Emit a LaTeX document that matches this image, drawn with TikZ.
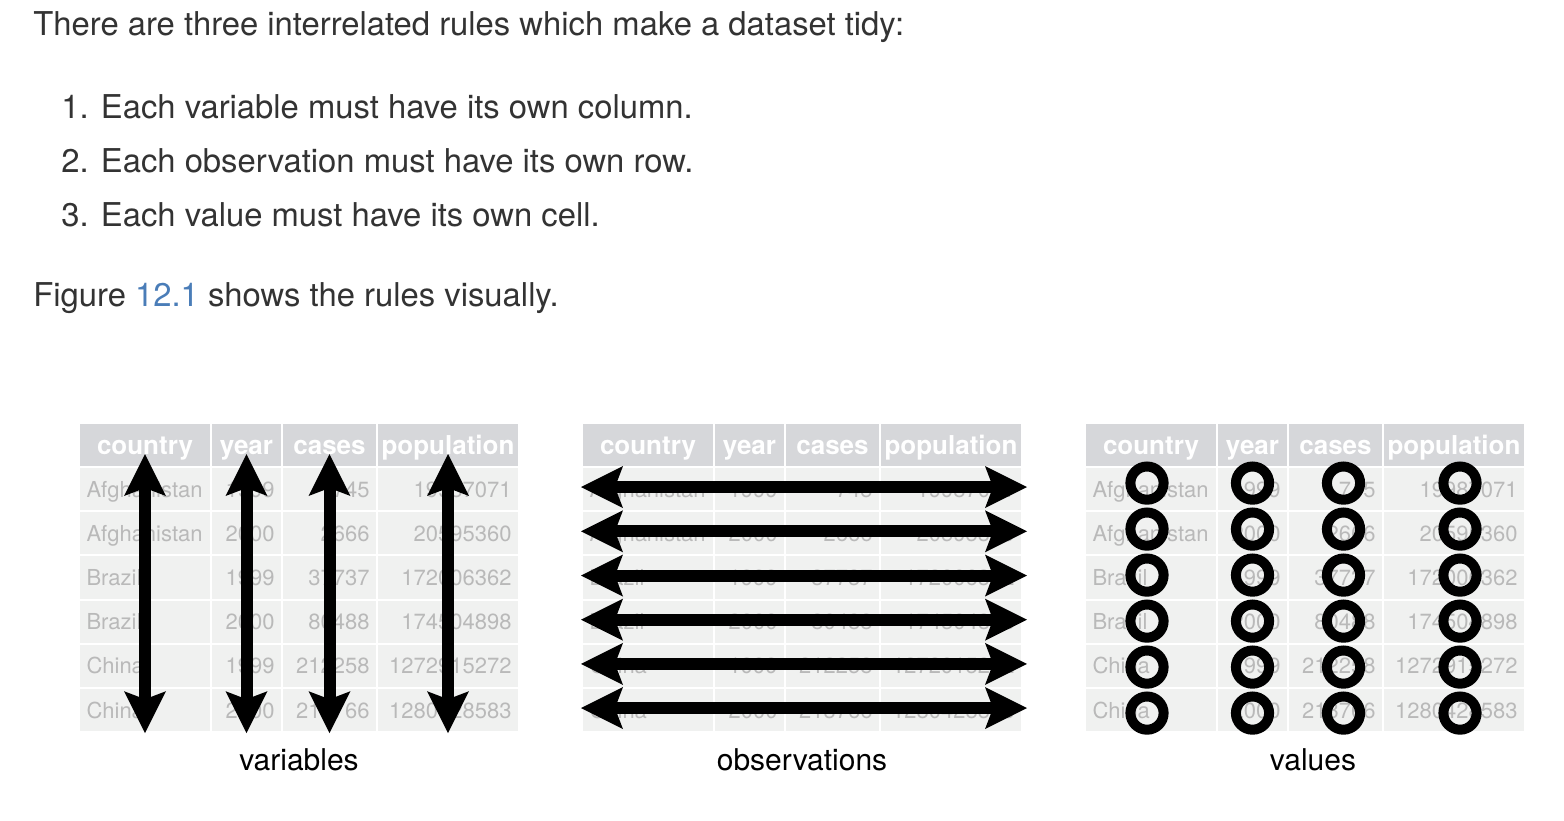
\documentclass[tikz,border=0pt]{standalone}
\usepackage{fontspec}
\setmainfont{TeX Gyre Heros}
\usetikzlibrary{arrows.meta}
\definecolor{prose}{HTML}{333333}
\definecolor{linkblue}{HTML}{4A7DB8}
\definecolor{headgray}{HTML}{D6D7DA}
\definecolor{cellgray}{HTML}{F0F1F0}
\definecolor{valuegray}{HTML}{B9B9B9}
\tikzset{>={Stealth[length=21pt,width=21pt,inset=4pt,line width=0pt]}}

\begin{document}
\begin{tikzpicture}[x=0.5pt,y=-0.5pt]
  \tikzstyle{para}=[anchor=base west,inner sep=0pt,text=prose,font=\fontsize{16.4}{19}\selectfont]
  \tikzstyle{head}=[draw=white,line width=1pt,fill=headgray,text=white,font=\fontsize{13}{15}\selectfont\bfseries,
                    minimum height=22pt,inner sep=0pt,text height=9.4pt,text depth=0pt]
  \tikzstyle{cell}=[draw=white,line width=1pt,fill=cellgray,text=valuegray,font=\fontsize{11}{13}\selectfont,
                    minimum height=22.1pt,inner xsep=3.75pt,inner ysep=0pt,text height=8pt,text depth=0pt]
  \tikzstyle{bigarrow}=[<->,line width=6pt]
  \tikzstyle{ring}=[line width=5pt]
  \tikzstyle{caption}=[anchor=base,inner sep=0pt,font=\fontsize{15}{18}\selectfont]

  \fill[white] (0,0) rectangle (1564,820);
  \useasboundingbox (0,0) rectangle (1564,820);

  \node[para] (intro)  at (33,35)  {There are three interrelated rules which make a dataset tidy:};
  \node[para] (rule1)  at (61,118) {1. Each variable must have its own column.};
  \node[para] (rule2)  at (61,172) {2. Each observation must have its own row.};
  \node[para] (rule3)  at (61,226) {3. Each value must have its own cell.};
  \node[para] (figref) at (33,306) {Figure \textcolor{linkblue}{12.1} shows the rules visually.};

  \foreach \t/\tx in {1/79,2/582,3/1085}{
    \foreach \c/\cx/\cw/\cname in {1/0/132/country,2/132/71/year,3/203/95/cases,4/298/142/population}
      \node[head,minimum width=\cw*0.5pt] (h\t\c) at (\tx+\cx+\cw/2,445) {\cname};
    \foreach \r/\cou/\yr/\cas/\pop in {1/Afghanistan/1999/745/19987071,2/Afghanistan/2000/2666/20595360,
                                      3/Brazil/1999/37737/172006362,4/Brazil/2000/80488/174504898,
                                      5/China/1999/212258/1272915272,6/China/2000/213766/1280428583}{
      \node[cell,text width=58.5pt,align=left] (c\t\r1) at (\tx+66,489.1+44.2*\r-44.2) {\cou};
      \foreach \c/\cx/\cw/\val in {2/132/71/\yr,3/203/95/\cas,4/298/142/\pop}{
        \pgfmathsetmacro\tw{\cw*0.5-7.5}
        \node[cell,text width=\tw pt,align=right] (c\t\r\c) at (\tx+\cx+\cw/2,489.1+44.2*\r-44.2) {\val};
      }
    }
  }

  \foreach \c in {1,...,4}
    \draw[bigarrow] ([yshift=-4.5pt]h1\c.center) -- (c16\c.south);

  \foreach \r in {1,...,6}
    \draw[bigarrow] ([shift={(0,-2)}]c2\r1.west) -- ([shift={(4,-2)}]c2\r4.east);

  \foreach \r in {1,...,6}
    \foreach \c/\dx in {1/-4,2/0,3/8,4/6}
      \draw[ring] ([shift={(\dx,1.8*\r-7.8)}]c3\r\c.center) circle (16.6);

  \node[caption] (vars) at (299,770)  {variables};
  \node[caption] (obs)  at (802,770)  {observations};
  \node[caption] (vals) at (1313,770) {values};
\end{tikzpicture}
\end{document}
